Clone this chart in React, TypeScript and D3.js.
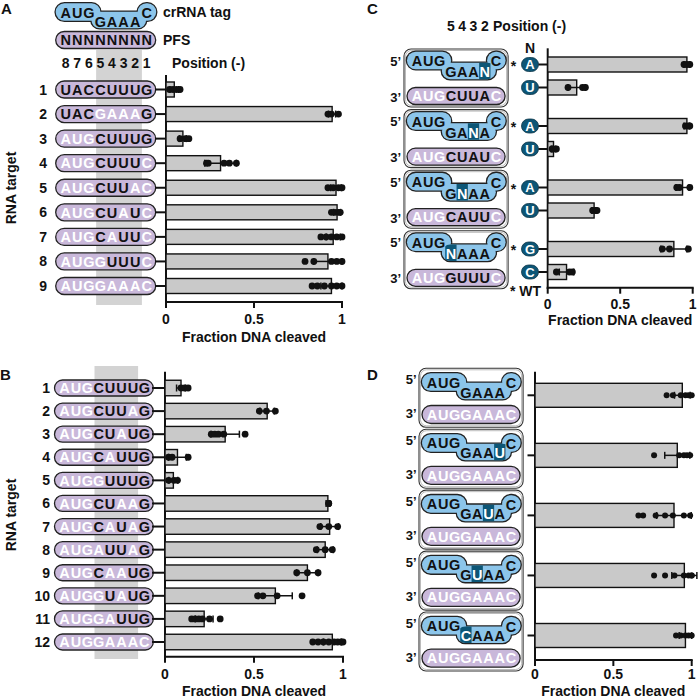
import React from "react";
import * as d3 from "d3";

const FONT = "'Liberation Sans', Arial, Helvetica, sans-serif";
const LAV = "#c9b8da";
const BLUE = "#8cc5ea";
const TEAL = "#0d5676";
const BARF = "#c9c9c9";
const SHADE = "#d3d3d3";

// ---------- Panel A data ----------
const aRows = ["1", "2", "3", "4", "5", "6", "7", "8", "9"];
const aTargets = ["UACCUUUG", "UACGAAAG", "AUGCUUUG", "AUGCUUUC", "AUGCUUAC", "AUGCUAUC", "AUGCAUUC", "AUGGUUUC", "AUGGAAAC"];
const aMasks = ["00000000", "00011110", "11100000", "11100001", "11100011", "11100101", "11101001", "11110001", "11111111"];
const aMeans = [0.047, 0.944, 0.096, 0.31, 0.966, 0.972, 0.95, 0.92, 0.94];
const aSD = [0.025, 0.02, 0.02, 0.09, 0.03, 0.02, 0.04, 0.08, 0.06];
const aPoints = [
  [0.02, 0.04, 0.06, 0.08],
  [0.92, 0.94, 0.98],
  [0.08, 0.11, 0.13],
  [0.23, 0.24, 0.33, 0.36, 0.4],
  [0.92, 0.95, 0.98, 1.0],
  [0.94, 0.96, 0.98, 0.99],
  [0.88, 0.91, 0.94, 0.97, 1.0],
  [0.79, 0.84, 0.94, 0.97, 1.0],
  [0.83, 0.86, 0.9, 0.94, 0.97, 1.0],
];
const positionNumbers = ["8", "7", "6", "5", "4", "3", "2", "1"];

// ---------- Panel B data ----------
const bRows = ["1", "2", "3", "4", "5", "6", "7", "8", "9", "10", "11", "12"];
const bTargets = ["AUGCUUUG", "AUGCUUAG", "AUGCUAUG", "AUGCAUUG", "AUGGUUUG", "AUGCUAAG", "AUGCAUAG", "AUGAUUAG", "AUGCAAUG", "AUGGUAUG", "AUGGAUUG", "AUGGAAAC"];
const bMasks = ["11100000", "11100010", "11100100", "11101000", "11110000", "11100110", "11101010", "11110010", "11101100", "11110100", "11111000", "11111111"];
const bMeans = [0.09, 0.574, 0.338, 0.07, 0.047, 0.915, 0.925, 0.9, 0.8, 0.62, 0.22, 0.94];
const bSD = [0.025, 0.04, 0.08, 0.05, 0.025, 0.01, 0.05, 0.045, 0.06, 0.095, 0.05, 0.05];
const bPoints = [
  [0.09, 0.11, 0.13],
  [0.53, 0.57, 0.62],
  [0.26, 0.28, 0.3, 0.33, 0.45],
  [0.02, 0.04, 0.13],
  [0.02, 0.05, 0.07],
  [0.92, 0.92],
  [0.87, 0.92, 0.97],
  [0.85, 0.9, 0.94],
  [0.74, 0.8, 0.86],
  [0.52, 0.55, 0.63, 0.77],
  [0.15, 0.17, 0.19, 0.21, 0.25, 0.31],
  [0.83, 0.86, 0.89, 0.92, 0.95, 0.97, 0.99, 1.0],
];

// ---------- Panel C data ----------
const cCrRNA = ["AUGGAANC", "AUGGANAC", "AUGGNAAC", "AUGNAAAC"];
const cHighlight = [6, 5, 4, 3];
const cTargets = ["AUGCUUAC", "AUGCUAUC", "AUGCAUUC", "AUGGUUUC"];
const cMasks = ["11100001", "11100001", "11100001", "11100001"];
const cBases = ["A", "U", "A", "U", "A", "U", "G", "C"];
const cWT = [true, false, true, false, true, false, true, false];
const cMeans = [0.96, 0.2, 0.96, 0.04, 0.93, 0.32, 0.87, 0.13];
const cSD = [0.02, 0.06, 0.02, 0.015, 0.045, 0.015, 0.09, 0.05];
const cPoints = [
  [0.94, 0.96, 0.98],
  [0.14, 0.24, 0.26],
  [0.95, 0.97, 0.98],
  [0.03, 0.04, 0.06],
  [0.89, 0.91, 0.98],
  [0.31, 0.33, 0.34],
  [0.79, 0.84, 0.97],
  [0.06, 0.15, 0.17],
];
const cPositions = ["5", "4", "3", "2"];

// ---------- Panel D data ----------
const dCrRNA = ["AUGGAAAC", "AUGGAAUC", "AUGGAUAC", "AUGGUAAC", "AUGCAAAC"];
const dHighlight = [-1, 6, 5, 4, 3];
const dTargets = ["AUGGAAAC", "AUGGAAAC", "AUGGAAAC", "AUGGAAAC", "AUGGAAAC"];
const dMeans = [0.94, 0.908, 0.887, 0.953, 0.96];
const dSD = [0.05, 0.08, 0.11, 0.08, 0.04];
const dPoints = [
  [0.84, 0.88, 0.93, 0.96, 0.98, 1.0],
  [0.76, 0.92, 0.95, 0.97, 0.99],
  [0.66, 0.69, 0.77, 0.83, 0.88, 0.95, 0.99],
  [0.76, 0.83, 0.89, 0.95, 0.98, 1.0, 1.0],
  [0.9, 0.93, 0.96, 0.98, 1.0],
];

const tickValues = [0, 0.5, 1];

const T = (props: any) => (
  <text fontFamily={FONT} fontWeight="bold" fontSize={14} fill="#111" {...props} />
);

function Pill({ c0, pitch, cy, seq, mask, h = 17 }: any) {
  const left = c0 - 10;
  const right = c0 + pitch * 7 + 9;
  return (
    <g>
      <rect x={left} y={cy - h / 2} width={right - left} height={h} rx={h / 2} fill={LAV} stroke="#222" strokeWidth={1.3} />
      {seq.split("").map((ch: string, i: number) => (
        <T key={i} x={c0 + pitch * i} y={cy} dy="0.36em" textAnchor="middle" fontSize={14.5} fill={mask && mask[i] === "1" ? "#fff" : "#111"}>
          {ch}
        </T>
      ))}
    </g>
  );
}

function CrRNA({ id, c0, pitch, top, h, seq, hi }: any) {
  const c = (i: number) => c0 + pitch * i;
  const lobeH = 17.5;
  const midH = 16.5;
  const midTop = top + h - midH;
  const rects = [
    { x: c(0) - 10, y: top, w: c(2) + 11.5 - (c(0) - 10), h: lobeH },
    { x: c(3) - 9, y: midTop, w: c(6) + 11 - (c(3) - 9), h: midH },
    { x: c(7) - 9, y: top, w: 18.5, h: lobeH },
  ];
  const mid = rects[1];
  return (
    <g>
      <defs>
        <clipPath id={id}>
          <rect x={mid.x} y={mid.y} width={mid.w} height={mid.h} rx={mid.h / 2} />
        </clipPath>
      </defs>
      {rects.map((r, i) => (
        <rect key={"s" + i} x={r.x} y={r.y} width={r.w} height={r.h} rx={r.h / 2} fill="none" stroke="#222" strokeWidth={2.6} />
      ))}
      {rects.map((r, i) => (
        <rect key={"f" + i} x={r.x} y={r.y} width={r.w} height={r.h} rx={r.h / 2} fill={BLUE} />
      ))}
      {hi >= 0 && (
        <rect x={c(hi) - pitch / 2} y={midTop - 2} width={pitch} height={midH + 4} fill={TEAL} clipPath={`url(#${id})`} />
      )}
      {seq.split("").map((ch: string, i: number) => {
        const y = i < 3 ? top + 9 : i < 7 ? top + h - 7 : top + 9.5;
        return (
          <T key={i} x={c(i)} y={y} dy="0.36em" textAnchor="middle" fontSize={14.5} fill={i === hi ? "#fff" : "#111"}>
            {ch}
          </T>
        );
      })}
    </g>
  );
}

function Bars({ x, ys, means, sds, pts, barH, r }: any) {
  return (
    <g>
      {means.map((m: number, i: number) => (
        <rect key={"b" + i} x={x(0)} y={ys[i] - barH / 2} width={x(m) - x(0)} height={barH} fill={BARF} stroke="#111" strokeWidth={1.4} />
      ))}
      {means.map((m: number, i: number) => {
        const lo = x(Math.max(0, m - sds[i]));
        const hi = x(m + sds[i]);
        return (
          <g key={"e" + i} stroke="#111" strokeWidth={1.5}>
            <line x1={lo} x2={hi} y1={ys[i]} y2={ys[i]} />
            <line x1={lo} x2={lo} y1={ys[i] - 3.5} y2={ys[i] + 3.5} />
            <line x1={hi} x2={hi} y1={ys[i] - 3.5} y2={ys[i] + 3.5} />
          </g>
        );
      })}
      {pts.map((arr: number[], i: number) =>
        arr.map((v, j) => <circle key={i + "-" + j} cx={x(v)} cy={ys[i]} r={r} fill="#111" />)
      )}
    </g>
  );
}

function Axes({ x, yTop, yBot, rowYs, tickX0, labelOff = 17, titleOff = 35 }: any) {
  const x0 = x(0);
  return (
    <g>
      <line x1={x0} x2={x0} y1={yTop} y2={yBot + 1} stroke="#111" strokeWidth={2} />
      <line x1={x0 - 1} x2={x(1) + 1} y1={yBot} y2={yBot} stroke="#111" strokeWidth={2} />
      {rowYs.map((y: number, i: number) => (
        <line key={i} x1={tickX0} x2={x0} y1={y} y2={y} stroke="#111" strokeWidth={2} />
      ))}
      {tickValues.map((t) => (
        <g key={t}>
          <line x1={x(t)} x2={x(t)} y1={yBot} y2={yBot + 6} stroke="#111" strokeWidth={2} />
          <T x={x(t)} y={yBot + labelOff} dy="0.36em" textAnchor="middle">
            {String(t)}
          </T>
        </g>
      ))}
      <T x={(x(0) + x(1)) / 2} y={yBot + titleOff} dy="0.36em" textAnchor="middle">
        Fraction DNA cleaved
      </T>
    </g>
  );
}

function GroupBox({ c0, pitch, top, h }: any) {
  const left = c0 - 13;
  const right = c0 + pitch * 7 + 12;
  return (
    <g fill="none">
      <rect x={left} y={top} width={right - left} height={h} rx={7} stroke="#333" strokeWidth={1.1} />
      <rect x={left + 1.5} y={top + 1.5} width={right - left - 3} height={h - 3} rx={6} stroke="#aaa" strokeWidth={0.8} />
    </g>
  );
}

export default function App() {
  // Panel A
  const xA = d3.scaleLinear().domain([0, 1]).range([166, 342]);
  const yA = d3.scalePoint<string>().domain(aRows).range([89.5, 286]);
  const aYs = aRows.map((r) => yA(r) as number);
  const pA = 11.57;
  const cA0 = 65.7;
  const cA = (i: number) => cA0 + pA * i;

  // Panel B
  const xB = d3.scaleLinear().domain([0, 1]).range([165, 343]);
  const yB = d3.scalePoint<string>().domain(bRows).range([388, 642]);
  const bYs = bRows.map((r) => yB(r) as number);
  const pB = 11.4;
  const cB0 = 64.5;
  const cB = (i: number) => cB0 + pB * i;

  // Panel C
  const xC = d3.scaleLinear().domain([0, 1]).range([547.7, 692.7]);
  const gC = d3.scaleLinear().domain([0, 3]).range([64.5, 249]);
  const cYs = cMeans.map((_, i) => gC(Math.floor(i / 2)) + (i % 2) * 23);
  const boxC = d3.scaleLinear().domain([0, 3]).range([49, 230.8]);
  const pC = 11.3;
  const cC0 = 417;

  // Panel D
  const xD = d3.scaleLinear().domain([0, 1]).range([535, 691.7]);
  const yD = d3.scalePoint<number>().domain(dMeans.map((_, i) => i)).range([395.3, 635.5]);
  const dYs = dMeans.map((_, i) => yD(i) as number);
  const boxD = d3.scaleLinear().domain([0, 4]).range([368.3, 612]);
  const pD = 11.3;
  const cD0 = 432;

  return (
    <svg width={700} height={700} style={{ position: "absolute", left: 0, top: 0, background: "#fff" }} fontFamily={FONT}>
      <rect width={700} height={700} fill="#fff" />

      {/* ================= Panel A ================= */}
      <T x={1} y={14} fontSize={15}>A</T>
      <rect x={cA(3) - pA / 2 + 1.5} y={50} width={cA(6) - cA(3) + pA - 0.5} height={255} fill={SHADE} />
      <CrRNA id="clipA" c0={cA0} pitch={pA} top={3.3} h={25} seq="AUGGAAAC" hi={-1} />
      <T x={163} y={12} dy="0.36em">crRNA tag</T>
      <Pill c0={cA0} pitch={pA} cy={40} seq="NNNNNNNN" mask={null} />
      <T x={163} y={40} dy="0.36em">PFS</T>
      {positionNumbers.map((n, i) => (
        <T key={n} x={cA(i)} y={63} dy="0.36em" textAnchor="middle">{n}</T>
      ))}
      <T x={172} y={63} dy="0.36em">Position (-)</T>
      <T transform={`translate(11,188) rotate(-90)`} textAnchor="middle" dy="0.36em">RNA target</T>
      {aRows.map((r, i) => (
        <g key={r}>
          <T x={47} y={aYs[i]} dy="0.36em" textAnchor="end">{r}</T>
          <Pill c0={cA0} pitch={pA} cy={aYs[i]} seq={aTargets[i]} mask={aMasks[i]} />
        </g>
      ))}
      <Axes x={xA} yTop={75} yBot={302} rowYs={aYs} tickX0={155} />
      <Bars x={xA} ys={aYs} means={aMeans} sds={aSD} pts={aPoints} barH={15} r={3.4} />

      {/* ================= Panel B ================= */}
      <T x={0} y={380} fontSize={15}>B</T>
      <rect x={cB(3) - pB / 2 + 1.5} y={366} width={cB(6) - cB(3) + pB - 2} height={293} fill={SHADE} />
      <T transform={`translate(11,515) rotate(-90)`} textAnchor="middle" dy="0.36em">RNA target</T>
      {bRows.map((r, i) => (
        <g key={r}>
          <T x={50} y={bYs[i]} dy="0.36em" textAnchor="end">{r}</T>
          <Pill c0={cB0} pitch={pB} cy={bYs[i]} seq={bTargets[i]} mask={bMasks[i]} h={16} />
        </g>
      ))}
      <Axes x={xB} yTop={371.7} yBot={656.7} rowYs={bYs} tickX0={152} titleOff={34} />
      <Bars x={xB} ys={bYs} means={bMeans} sds={bSD} pts={bPoints} barH={15.5} r={3.4} />

      {/* ================= Panel C ================= */}
      <T x={367} y={13.5} fontSize={15}>C</T>
      {cPositions.map((n, i) => (
        <T key={n} x={cC0 + pC * (i + 3)} y={26} dy="0.36em" textAnchor="middle">{n}</T>
      ))}
      <T x={493} y={26} dy="0.36em">Position (-)</T>
      {cCrRNA.map((s, g) => {
        const top = boxC(g);
        return (
          <g key={g}>
            <GroupBox c0={cC0} pitch={pC} top={top} h={58} />
            <CrRNA id={"clipC" + g} c0={cC0} pitch={pC} top={top + 2.7} h={27.5} seq={s} hi={cHighlight[g]} />
            <Pill c0={cC0} pitch={pC} cy={top + 47} seq={cTargets[g]} mask={cMasks[g]} />
            <T x={401} y={top + 12} dy="0.36em" textAnchor="end" fontSize={13}>5’</T>
            <T x={401} y={top + 48} dy="0.36em" textAnchor="end" fontSize={13}>3’</T>
          </g>
        );
      })}
      <T x={530} y={47.5} dy="0.36em" textAnchor="middle">N</T>
      {cBases.map((b, i) => (
        <g key={i}>
          {cWT[i] && (
            <T x={513.5} y={cYs[i] + 1} dy="0.36em" textAnchor="middle">*</T>
          )}
          <rect x={521.5} y={cYs[i] - 7} width={17} height={14} rx={7} fill={TEAL} stroke="#0a3346" strokeWidth={0.8} />
          <T x={530} y={cYs[i]} dy="0.36em" textAnchor="middle" fill="#fff" fontSize={13}>{b}</T>
        </g>
      ))}
      <T x={510} y={291} dy="0.36em">* WT</T>
      <Axes x={xC} yTop={48.3} yBot={287.7} rowYs={cYs} tickX0={538.5} labelOff={16} titleOff={32} />
      <Bars x={xC} ys={cYs} means={cMeans} sds={cSD} pts={cPoints} barH={15} r={3.4} />

      {/* ================= Panel D ================= */}
      <T x={367} y={380} fontSize={15}>D</T>
      {dCrRNA.map((s, g) => {
        const top = boxD(g);
        return (
          <g key={g}>
            <GroupBox c0={cD0} pitch={pD} top={top} h={59} />
            <CrRNA id={"clipD" + g} c0={cD0} pitch={pD} top={top + 5} h={26} seq={s} hi={dHighlight[g]} />
            <Pill c0={cD0} pitch={pD} cy={top + 46.2} seq={dTargets[g]} mask={"11111111"} h={18} />
            <T x={416.5} y={top + 11} dy="0.36em" textAnchor="end" fontSize={13}>5’</T>
            <T x={416.5} y={top + 45.5} dy="0.36em" textAnchor="end" fontSize={13}>3’</T>
          </g>
        );
      })}
      <Axes x={xD} yTop={371.7} yBot={660} rowYs={dYs} tickX0={527.5} labelOff={14} titleOff={31} />
      <Bars x={xD} ys={dYs} means={dMeans} sds={dSD} pts={dPoints} barH={24} r={3} />
    </svg>
  );
}
